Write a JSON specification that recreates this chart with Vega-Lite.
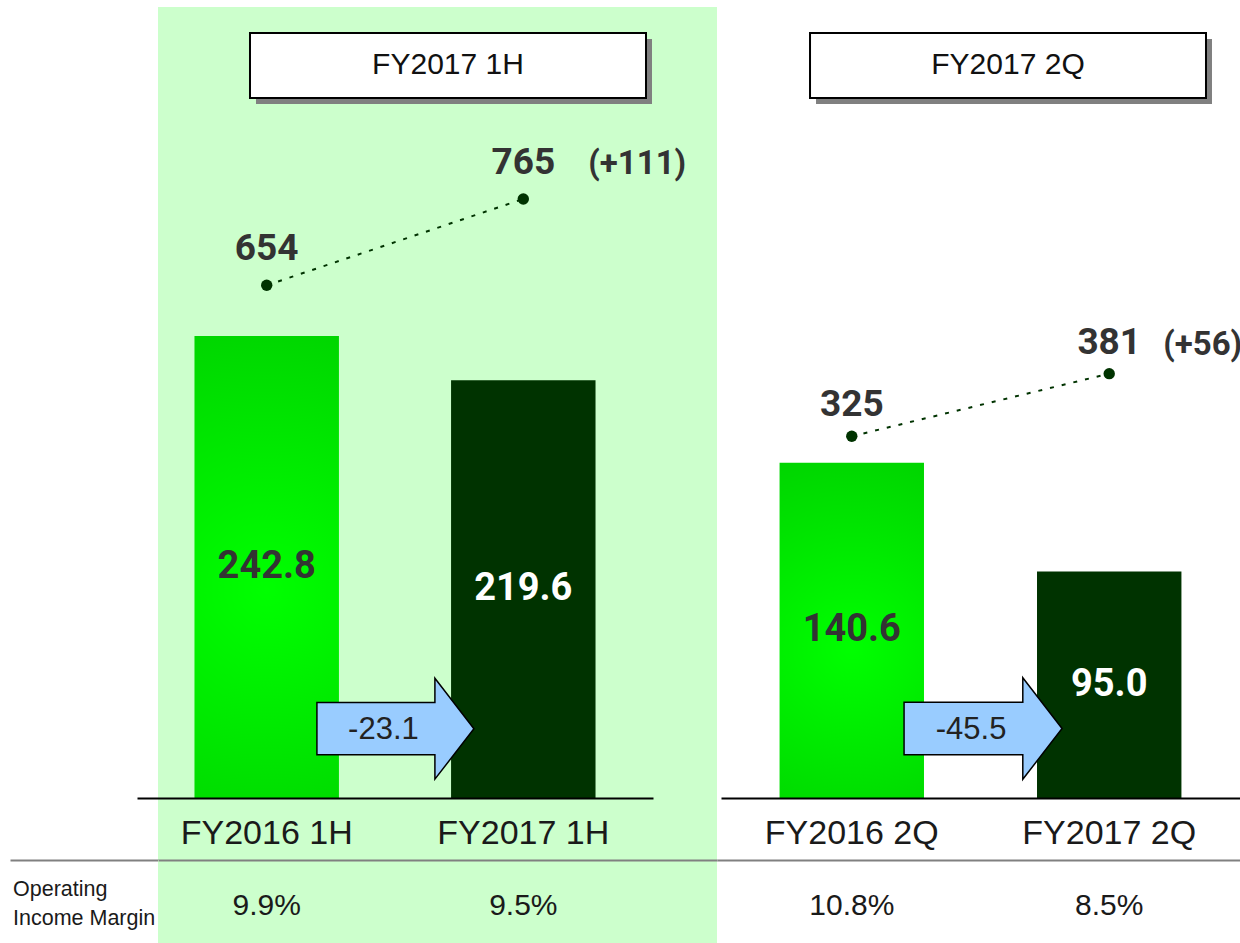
{
  "$schema": "https://vega.github.io/schema/vega-lite/v6.json",
  "padding": {"left": 10, "top": 7, "right": 0, "bottom": 0},
  "spacing": 0,
  "bounds": "flush",
  "columns": 3,
  "config": {
    "view": {"stroke": null},
    "locale": {"number": {"decimal": ".", "thousands": ",", "grouping": [3], "currency": ["", ""], "minus": "-"}}
  },
  "datasets": {
    "left": [
      {"period": "FY2016 1H", "income": 242.8, "sales": 654, "margin": 0.099},
      {"period": "FY2017 1H", "income": 219.6, "sales": 765, "change": "(+111)", "margin": 0.095}
    ],
    "right": [
      {"period": "FY2016 2Q", "income": 140.6, "sales": 325, "margin": 0.108},
      {"period": "FY2017 2Q", "income": 95.0, "sales": 381, "change": "(+56)", "margin": 0.085}
    ]
  },
  "concat": [
    {"width": 148, "height": 791, "data": {"values": [{}]}, "mark": {"type": "text"}, "encoding": {"text": {"value": ""}}},
    {
      "width": 559, "height": 791,
      "view": {"fill": "#ccffcc", "stroke": null},
      "resolve": {"scale": {"x": "independent", "y": "independent"}},
      "layer": [
        {
          "data": {"values": [{"title": "FY2017 1H"}]},
          "mark": {"type": "rect", "fill": "#808080", "xOffset": 6, "yOffset": 6},
          "encoding": {
            "x": {"field": "title", "type": "nominal", "axis": null, "scale": {"type": "band", "domain": ["FY2017 1H"], "paddingInner": 0, "paddingOuter": 0.2058, "align": 0.5644}},
            "y": {"field": "title", "type": "nominal", "axis": null, "scale": {"type": "band", "domain": ["FY2017 1H"], "paddingInner": 0.821, "paddingOuter": 1, "align": 0.0358}}
          }
        },
        {
          "data": {"values": [{"title": "FY2017 1H"}]},
          "mark": {"type": "rect", "fill": "#ffffff", "stroke": "#000000", "strokeWidth": 2},
          "encoding": {
            "x": {"field": "title", "type": "nominal", "axis": null, "scale": {"type": "band", "domain": ["FY2017 1H"], "paddingInner": 0, "paddingOuter": 0.2058, "align": 0.5644}},
            "y": {"field": "title", "type": "nominal", "axis": null, "scale": {"type": "band", "domain": ["FY2017 1H"], "paddingInner": 0.821, "paddingOuter": 1, "align": 0.0358}}
          }
        },
        {
          "data": {"values": [{"title": "FY2017 1H"}]},
          "mark": {"type": "text", "font": "Liberation Sans, Arial, sans-serif", "fontSize": 30, "color": "#111111", "baseline": "middle"},
          "encoding": {
            "x": {"field": "title", "type": "nominal", "axis": null, "scale": {"type": "band", "domain": ["FY2017 1H"], "paddingInner": 0, "paddingOuter": 0.2058, "align": 0.5644}},
            "y": {"field": "title", "type": "nominal", "axis": null, "scale": {"type": "band", "domain": ["FY2017 1H"], "paddingInner": 0.821, "paddingOuter": 1, "align": 0.0358}},
            "text": {"field": "title"}
          }
        },
        {
          "data": {"name": "left"},
          "transform": [{"filter": "datum.period === 'FY2016 1H'"}],
          "mark": {"type": "bar", "fill": {"gradient": "radial", "x1": 0.5, "y1": 0.55, "r1": 0, "x2": 0.5, "y2": 0.55, "r2": 0.6, "stops": [{"offset": 0, "color": "#00ff00"}, {"offset": 1, "color": "#00d400"}]}},
          "encoding": {
            "x": {"field": "period", "type": "nominal", "axis": null, "scale": {"type": "band", "domain": ["FY2016 1H", "FY2017 1H"], "range": [-21, 495], "paddingInner": 0.437, "paddingOuter": 0.224}},
            "y": {"field": "income", "type": "quantitative", "axis": null, "scale": {"domain": [0, 415.7], "nice": false}}
          }
        },
        {
          "data": {"name": "left"},
          "transform": [{"filter": "datum.period === 'FY2017 1H'"}],
          "mark": {"type": "bar", "color": "#003300"},
          "encoding": {
            "x": {"field": "period", "type": "nominal", "axis": null, "scale": {"type": "band", "domain": ["FY2016 1H", "FY2017 1H"], "range": [-21, 495], "paddingInner": 0.437, "paddingOuter": 0.224}},
            "y": {"field": "income", "type": "quantitative", "axis": null, "scale": {"domain": [0, 415.7], "nice": false}}
          }
        },
        {
          "data": {"name": "left"},
          "mark": {"type": "text", "font": "Roboto", "fontWeight": "bold", "fontSize": 38, "baseline": "middle"},
          "encoding": {
            "x": {"field": "period", "type": "nominal", "axis": null, "scale": {"type": "band", "domain": ["FY2016 1H", "FY2017 1H"], "range": [-21, 495], "paddingInner": 0.437, "paddingOuter": 0.224}},
            "y": {"field": "income", "type": "quantitative", "axis": null, "scale": {"domain": [0, 831.4], "nice": false}},
            "text": {"field": "income", "type": "quantitative", "format": ".1f"},
            "color": {"condition": {"test": "datum.period === 'FY2016 1H'", "value": "#333333"}, "value": "#ffffff"}
          }
        },
        {
          "data": {"name": "left"},
          "mark": {"type": "line", "color": "#003300", "strokeWidth": 2, "strokeDash": [4, 8]},
          "encoding": {
            "x": {"field": "period", "type": "nominal", "axis": null, "scale": {"type": "band", "domain": ["FY2016 1H", "FY2017 1H"], "range": [-21, 495], "paddingInner": 0.437, "paddingOuter": 0.224}},
            "y": {"field": "sales", "type": "quantitative", "axis": null, "scale": {"domain": [-5.4, 1011.9], "nice": false, "zero": false}}
          }
        },
        {
          "data": {"name": "left"},
          "mark": {"type": "point", "filled": true, "size": 130, "color": "#003300", "opacity": 1},
          "encoding": {
            "x": {"field": "period", "type": "nominal", "axis": null, "scale": {"type": "band", "domain": ["FY2016 1H", "FY2017 1H"], "range": [-21, 495], "paddingInner": 0.437, "paddingOuter": 0.224}},
            "y": {"field": "sales", "type": "quantitative", "axis": null, "scale": {"domain": [-5.4, 1011.9], "nice": false, "zero": false}}
          }
        },
        {
          "data": {"name": "left"},
          "mark": {"type": "text", "font": "Roboto", "fontWeight": "bold", "fontSize": 37, "color": "#333333", "baseline": "middle", "dy": -36},
          "encoding": {
            "x": {"field": "period", "type": "nominal", "axis": null, "scale": {"type": "band", "domain": ["FY2016 1H", "FY2017 1H"], "range": [-21, 495], "paddingInner": 0.437, "paddingOuter": 0.224}},
            "y": {"field": "sales", "type": "quantitative", "axis": null, "scale": {"domain": [-5.4, 1011.9], "nice": false, "zero": false}},
            "text": {"field": "sales", "type": "quantitative", "format": "d"}
          }
        },
        {
          "data": {"name": "left"},
          "transform": [{"filter": "isValid(datum.change)"}],
          "mark": {"type": "text", "font": "Roboto", "fontWeight": "bold", "fontSize": 33, "color": "#333333", "baseline": "middle", "align": "left", "dx": 65, "dy": -35},
          "encoding": {
            "x": {"field": "period", "type": "nominal", "axis": null, "scale": {"type": "band", "domain": ["FY2016 1H", "FY2017 1H"], "range": [-21, 495], "paddingInner": 0.437, "paddingOuter": 0.224}},
            "y": {"field": "sales", "type": "quantitative", "axis": null, "scale": {"domain": [-5.4, 1011.9], "nice": false, "zero": false}},
            "text": {"field": "change", "type": "nominal"}
          }
        },
        {
          "data": {"values": [{"period": "FY2016 1H", "diff": -23.1}]},
          "mark": {"type": "point", "shape": "M-1,-0.333L0.503,-0.333L0.503,-0.643L1,0L0.503,0.643L0.503,0.333L-1,0.333Z", "size": 24649, "filled": true, "fill": "#99ccff", "stroke": "#000000", "strokeWidth": 1.5, "strokeJoin": "miter", "opacity": 1, "yOffset": -69.3},
          "encoding": {
            "x": {"field": "period", "type": "nominal", "axis": null, "bandPosition": 1.391, "scale": {"type": "band", "domain": ["FY2016 1H", "FY2017 1H"], "range": [-21, 495], "paddingInner": 0.437, "paddingOuter": 0.224}},
            "y": {"datum": 0, "type": "quantitative", "axis": null, "scale": {"domain": [0, 415.7], "nice": false}}
          }
        },
        {
          "data": {"values": [{"period": "FY2016 1H", "diff": -23.1}]},
          "mark": {"type": "text", "font": "Liberation Sans, Arial, sans-serif", "fontSize": 31, "color": "#222222", "baseline": "middle", "dx": -12, "dy": -68},
          "encoding": {
            "x": {"field": "period", "type": "nominal", "axis": null, "bandPosition": 1.391, "scale": {"type": "band", "domain": ["FY2016 1H", "FY2017 1H"], "range": [-21, 495], "paddingInner": 0.437, "paddingOuter": 0.224}},
            "y": {"datum": 0, "type": "quantitative", "axis": null, "scale": {"domain": [0, 415.7], "nice": false}},
            "text": {"field": "diff", "type": "quantitative", "format": ".1f"}
          }
        }
      ]
    },
    {
      "width": 523, "height": 791,
      "resolve": {"scale": {"x": "independent", "y": "independent"}},
      "layer": [
        {
          "data": {"values": [{"title": "FY2017 2Q"}]},
          "mark": {"type": "rect", "fill": "#808080", "xOffset": 6, "yOffset": 6},
          "encoding": {
            "x": {"field": "title", "type": "nominal", "axis": null, "scale": {"type": "band", "domain": ["FY2017 2Q"], "paddingInner": 0, "paddingOuter": 0.1604, "align": 0.7323}},
            "y": {"field": "title", "type": "nominal", "axis": null, "scale": {"type": "band", "domain": ["FY2017 2Q"], "paddingInner": 0.821, "paddingOuter": 1, "align": 0.0358}}
          }
        },
        {
          "data": {"values": [{"title": "FY2017 2Q"}]},
          "mark": {"type": "rect", "fill": "#ffffff", "stroke": "#000000", "strokeWidth": 2},
          "encoding": {
            "x": {"field": "title", "type": "nominal", "axis": null, "scale": {"type": "band", "domain": ["FY2017 2Q"], "paddingInner": 0, "paddingOuter": 0.1604, "align": 0.7323}},
            "y": {"field": "title", "type": "nominal", "axis": null, "scale": {"type": "band", "domain": ["FY2017 2Q"], "paddingInner": 0.821, "paddingOuter": 1, "align": 0.0358}}
          }
        },
        {
          "data": {"values": [{"title": "FY2017 2Q"}]},
          "mark": {"type": "text", "font": "Liberation Sans, Arial, sans-serif", "fontSize": 30, "color": "#111111", "baseline": "middle"},
          "encoding": {
            "x": {"field": "title", "type": "nominal", "axis": null, "scale": {"type": "band", "domain": ["FY2017 2Q"], "paddingInner": 0, "paddingOuter": 0.1604, "align": 0.7323}},
            "y": {"field": "title", "type": "nominal", "axis": null, "scale": {"type": "band", "domain": ["FY2017 2Q"], "paddingInner": 0.821, "paddingOuter": 1, "align": 0.0358}},
            "text": {"field": "title"}
          }
        },
        {
          "data": {"name": "right"},
          "transform": [{"filter": "datum.period === 'FY2016 2Q'"}],
          "mark": {"type": "bar", "fill": {"gradient": "radial", "x1": 0.5, "y1": 0.55, "r1": 0, "x2": 0.5, "y2": 0.55, "r2": 0.6, "stops": [{"offset": 0, "color": "#00ff00"}, {"offset": 1, "color": "#00d400"}]}},
          "encoding": {
            "x": {"field": "period", "type": "nominal", "axis": null, "scale": {"type": "band", "domain": ["FY2016 2Q", "FY2017 2Q"], "range": [4, 523], "paddingInner": 0.439, "paddingOuter": 0.2275}},
            "y": {"field": "income", "type": "quantitative", "axis": null, "scale": {"domain": [0, 331.8], "nice": false}}
          }
        },
        {
          "data": {"name": "right"},
          "transform": [{"filter": "datum.period === 'FY2017 2Q'"}],
          "mark": {"type": "bar", "color": "#003300"},
          "encoding": {
            "x": {"field": "period", "type": "nominal", "axis": null, "scale": {"type": "band", "domain": ["FY2016 2Q", "FY2017 2Q"], "range": [4, 523], "paddingInner": 0.439, "paddingOuter": 0.2275}},
            "y": {"field": "income", "type": "quantitative", "axis": null, "scale": {"domain": [0, 331.8], "nice": false}}
          }
        },
        {
          "data": {"name": "right"},
          "mark": {"type": "text", "font": "Roboto", "fontWeight": "bold", "fontSize": 38, "baseline": "middle"},
          "encoding": {
            "x": {"field": "period", "type": "nominal", "axis": null, "scale": {"type": "band", "domain": ["FY2016 2Q", "FY2017 2Q"], "range": [4, 523], "paddingInner": 0.439, "paddingOuter": 0.2275}},
            "y": {"field": "income", "type": "quantitative", "axis": null, "scale": {"domain": [0, 663.6], "nice": false}},
            "text": {"field": "income", "type": "quantitative", "format": ".1f"},
            "color": {"condition": {"test": "datum.period === 'FY2016 2Q'", "value": "#333333"}, "value": "#ffffff"}
          }
        },
        {
          "data": {"name": "right"},
          "mark": {"type": "line", "color": "#003300", "strokeWidth": 2, "strokeDash": [4, 8]},
          "encoding": {
            "x": {"field": "period", "type": "nominal", "axis": null, "scale": {"type": "band", "domain": ["FY2016 2Q", "FY2017 2Q"], "range": [4, 523], "paddingInner": 0.439, "paddingOuter": 0.2275}},
            "y": {"field": "sales", "type": "quantitative", "axis": null, "scale": {"domain": [1.4, 709], "nice": false, "zero": false}}
          }
        },
        {
          "data": {"name": "right"},
          "mark": {"type": "point", "filled": true, "size": 130, "color": "#003300", "opacity": 1},
          "encoding": {
            "x": {"field": "period", "type": "nominal", "axis": null, "scale": {"type": "band", "domain": ["FY2016 2Q", "FY2017 2Q"], "range": [4, 523], "paddingInner": 0.439, "paddingOuter": 0.2275}},
            "y": {"field": "sales", "type": "quantitative", "axis": null, "scale": {"domain": [1.4, 709], "nice": false, "zero": false}}
          }
        },
        {
          "data": {"name": "right"},
          "mark": {"type": "text", "font": "Roboto", "fontWeight": "bold", "fontSize": 37, "color": "#333333", "baseline": "middle", "dy": -31},
          "encoding": {
            "x": {"field": "period", "type": "nominal", "axis": null, "scale": {"type": "band", "domain": ["FY2016 2Q", "FY2017 2Q"], "range": [4, 523], "paddingInner": 0.439, "paddingOuter": 0.2275}},
            "y": {"field": "sales", "type": "quantitative", "axis": null, "scale": {"domain": [1.4, 709], "nice": false, "zero": false}},
            "text": {"field": "sales", "type": "quantitative", "format": "d"}
          }
        },
        {
          "data": {"name": "right"},
          "transform": [{"filter": "isValid(datum.change)"}],
          "mark": {"type": "text", "font": "Roboto", "fontWeight": "bold", "fontSize": 33, "color": "#333333", "baseline": "middle", "align": "left", "dx": 54, "dy": -29},
          "encoding": {
            "x": {"field": "period", "type": "nominal", "axis": null, "scale": {"type": "band", "domain": ["FY2016 2Q", "FY2017 2Q"], "range": [4, 523], "paddingInner": 0.439, "paddingOuter": 0.2275}},
            "y": {"field": "sales", "type": "quantitative", "axis": null, "scale": {"domain": [1.4, 709], "nice": false, "zero": false}},
            "text": {"field": "change", "type": "nominal"}
          }
        },
        {
          "data": {"values": [{"period": "FY2016 2Q", "diff": -45.5}]},
          "mark": {"type": "point", "shape": "M-1,-0.333L0.503,-0.333L0.503,-0.643L1,0L0.503,0.643L0.503,0.333L-1,0.333Z", "size": 24964, "filled": true, "fill": "#99ccff", "stroke": "#000000", "strokeWidth": 1.5, "strokeJoin": "miter", "opacity": 1, "yOffset": -69.5},
          "encoding": {
            "x": {"field": "period", "type": "nominal", "axis": null, "bandPosition": 1.409, "scale": {"type": "band", "domain": ["FY2016 2Q", "FY2017 2Q"], "range": [4, 523], "paddingInner": 0.439, "paddingOuter": 0.2275}},
            "y": {"datum": 0, "type": "quantitative", "axis": null, "scale": {"domain": [0, 331.8], "nice": false}}
          }
        },
        {
          "data": {"values": [{"period": "FY2016 2Q", "diff": -45.5}]},
          "mark": {"type": "text", "font": "Liberation Sans, Arial, sans-serif", "fontSize": 31, "color": "#222222", "baseline": "middle", "dx": -12, "dy": -68},
          "encoding": {
            "x": {"field": "period", "type": "nominal", "axis": null, "bandPosition": 1.409, "scale": {"type": "band", "domain": ["FY2016 2Q", "FY2017 2Q"], "range": [4, 523], "paddingInner": 0.439, "paddingOuter": 0.2275}},
            "y": {"datum": 0, "type": "quantitative", "axis": null, "scale": {"domain": [0, 331.8], "nice": false}},
            "text": {"field": "diff", "type": "quantitative", "format": ".1f"}
          }
        }
      ]
    },
    {"width": 148, "height": 62, "data": {"values": [{}]}, "mark": {"type": "text"}, "encoding": {"text": {"value": ""}}},
    {
      "width": 559, "height": 62,
      "view": {"fill": "#ccffcc", "stroke": null},
      "data": {"name": "left"},
      "mark": {"type": "text", "font": "Liberation Sans, Arial, sans-serif", "fontSize": 34, "color": "#1a1a1a", "baseline": "middle", "dy": 5},
      "encoding": {
        "x": {"field": "period", "type": "nominal", "scale": {"type": "band", "domain": ["FY2016 1H", "FY2017 1H"], "range": [-21, 495], "paddingInner": 0.437, "paddingOuter": 0.224},
              "axis": {"orient": "top", "domain": true, "domainColor": "#000000", "domainWidth": 2, "ticks": false, "labels": false, "grid": false, "title": null}},
        "text": {"field": "period", "type": "nominal"}
      }
    },
    {
      "width": 523, "height": 62,
      "data": {"name": "right"},
      "mark": {"type": "text", "font": "Liberation Sans, Arial, sans-serif", "fontSize": 34, "color": "#1a1a1a", "baseline": "middle", "dy": 5},
      "encoding": {
        "x": {"field": "period", "type": "nominal", "scale": {"type": "band", "domain": ["FY2016 2Q", "FY2017 2Q"], "range": [4, 523], "paddingInner": 0.439, "paddingOuter": 0.2275},
              "axis": {"orient": "top", "domain": true, "domainColor": "#000000", "domainWidth": 2, "ticks": false, "labels": false, "grid": false, "title": null}},
        "text": {"field": "period", "type": "nominal"}
      }
    },
    {
      "width": 148, "height": 83,
      "data": {"values": [{"label": "Operating\nIncome Margin"}]},
      "mark": {"type": "text", "font": "Liberation Sans, Arial, sans-serif", "fontSize": 21.5, "color": "#1a1a1a", "align": "left", "baseline": "middle", "lineBreak": "\n", "lineHeight": 29, "dx": 3, "dy": -12},
      "encoding": {
        "x": {"field": "label", "type": "nominal", "bandPosition": 0, "scale": {"type": "band", "paddingInner": 0, "paddingOuter": 0},
              "axis": {"orient": "top", "domain": true, "domainColor": "#808080", "domainWidth": 2, "ticks": false, "labels": false, "grid": false, "title": null}},
        "text": {"field": "label", "type": "nominal"}
      }
    },
    {
      "width": 559, "height": 83,
      "view": {"fill": "#ccffcc", "stroke": null},
      "data": {"name": "left"},
      "mark": {"type": "text", "font": "Liberation Sans, Arial, sans-serif", "fontSize": 30, "color": "#1a1a1a", "baseline": "middle", "dy": 4},
      "encoding": {
        "x": {"field": "period", "type": "nominal", "scale": {"type": "band", "domain": ["FY2016 1H", "FY2017 1H"], "paddingInner": 0.437, "paddingOuter": 0.3077, "align": 0.231},
              "axis": {"orient": "top", "domain": true, "domainColor": "#808080", "domainWidth": 2, "ticks": false, "labels": false, "grid": false, "title": null}},
        "text": {"field": "margin", "type": "quantitative", "format": ".1%"}
      }
    },
    {
      "width": 523, "height": 83,
      "data": {"name": "right"},
      "mark": {"type": "text", "font": "Liberation Sans, Arial, sans-serif", "fontSize": 30, "color": "#1a1a1a", "baseline": "middle", "dy": 4},
      "encoding": {
        "x": {"field": "period", "type": "nominal", "scale": {"type": "band", "domain": ["FY2016 2Q", "FY2017 2Q"], "paddingInner": 0.439, "paddingOuter": 0.2354, "align": 0.5165},
              "axis": {"orient": "top", "domain": true, "domainColor": "#808080", "domainWidth": 2, "ticks": false, "labels": false, "grid": false, "title": null}},
        "text": {"field": "margin", "type": "quantitative", "format": ".1%"}
      }
    }
  ]
}
